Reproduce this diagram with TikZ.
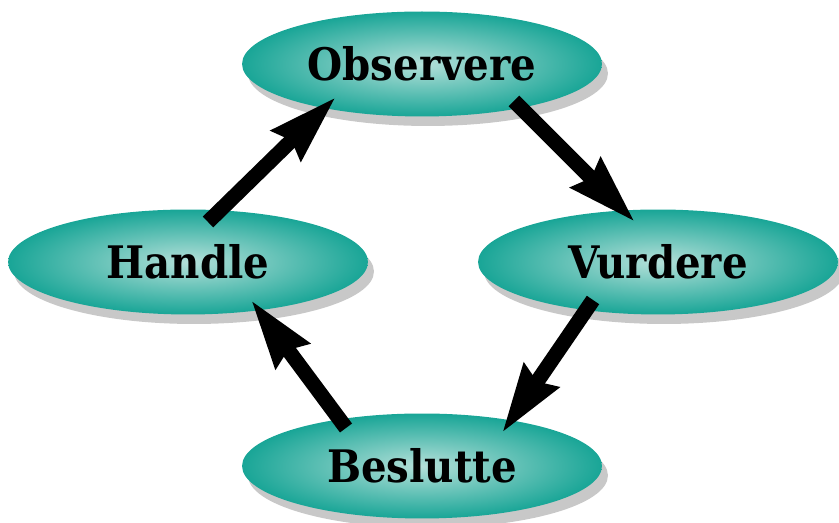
\documentclass[tikz,border=0pt]{standalone}
\usepackage{fontspec}
\setmainfont{DejaVu Serif Condensed}
\usetikzlibrary{shapes.geometric,shadows,arrows.meta}

% colours of the ovals
\definecolor{ovalout}{RGB}{0,156,140}
\definecolor{ovalin}{RGB}{180,224,217}
\definecolor{ovalshadow}{RGB}{200,200,200}
\pgfdeclareradialshading{ovalshade}{\pgfpointorigin}{color(0bp)=(ovalin); color(29bp)=(ovalout); color(50bp)=(ovalout)}

\begin{document}
\begin{tikzpicture}[x=0.02cm, y=0.02cm,
  stage/.style={ellipse, minimum width=7.2cm, minimum height=2.1cm, inner sep=0pt,
    shading=ovalshade,
    drop shadow={shadow xshift=0.12cm, shadow yshift=-0.19cm, fill=ovalshadow, opacity=1},
    font=\fontsize{25.5}{30}\selectfont\bfseries},
  flow/.style={line width=0.3cm, -{Stealth[length=1.36cm, width=0.8cm, inset=0.12cm]}}]

  % Fix the page to the reference size
  \useasboundingbox (0,0) rectangle (839,523);

  % The four stages of the cycle
  \node[stage] (obs) at (422,459) {Observere};
  \node[stage] (han) at (188,261) {Handle};
  \node[stage] (vur) at (658,261) {Vurdere};
  \node[stage] (bes) at (422,57)  {Beslutte};

  % Arrows round the cycle
  \draw[flow] ([shift={(20,40)}]han.center) -- ([shift={(-86,-33)}]obs.center);
  \draw[flow] ([shift={(92,-37)}]obs.center) -- ([shift={(-23,40)}]vur.center);
  \draw[flow] ([shift={(-65,-38)}]vur.center) -- ([shift={(80,33)}]bes.center);
  \draw[flow] ([shift={(-76,38)}]bes.center) -- ([shift={(63,-38)}]han.center);

\end{tikzpicture}
\end{document}
